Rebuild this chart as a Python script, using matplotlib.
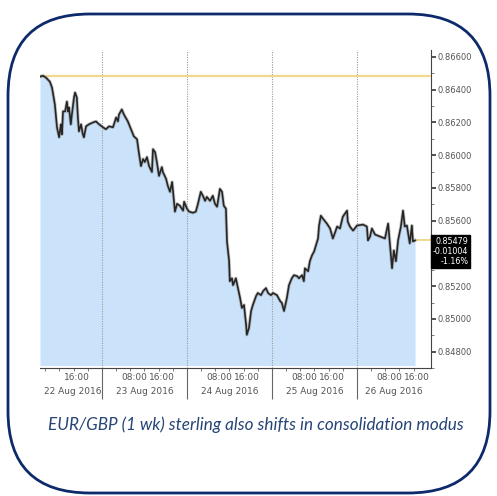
import matplotlib
matplotlib.use('Agg')
import matplotlib.pyplot as plt
from matplotlib.patches import FancyBboxPatch
from matplotlib.transforms import blended_transform_factory
import numpy as np

# hours since 22 Aug 2016 00:00 (UTC) and EUR/GBP price
HOURS = [6.5, 7.3, 8.2, 9.3, 9.9, 10.7, 11.3, 11.9, 12.4, 12.7, 13.0, 13.6, 14.1,
         14.4, 14.7, 15.2, 15.5, 16.1, 16.4, 16.9, 17.2, 17.5, 18.1, 18.6, 18.9,
         19.5, 20.3, 21.5, 22.3, 23.2, 24.3, 25.1, 26.0, 27.1, 28.0, 28.5, 28.8,
         29.6, 30.2, 31.3, 32.2, 33.0, 33.9, 34.4, 35.0, 35.6, 36.1, 36.7, 37.3,
         38.1, 38.4, 39.0, 39.5, 40.1, 40.9, 41.2, 42.1, 42.6, 43.2, 43.8, 44.0,
         44.6, 45.2, 46.0, 46.9, 47.2, 48.0, 48.6, 49.7, 50.5, 51.1, 51.9, 52.5,
         53.1, 53.6, 54.5, 55.3, 55.9, 56.5, 57.3, 57.9, 58.4, 59.0, 59.3, 59.9,
         60.1, 60.7, 61.0, 61.8, 62.4, 63.0, 63.5, 64.1, 64.7, 64.9, 65.5, 66.1,
         66.6, 67.5, 68.0, 68.9, 69.5, 70.3, 70.9, 71.7, 72.3, 73.4, 74.3, 74.8,
         75.4, 76.2, 76.8, 77.6, 78.2, 79.1, 79.6, 80.5, 81.0, 81.3, 82.2, 82.7,
         83.3, 83.9, 84.4, 85.0, 85.3, 85.8, 86.4, 87.5, 88.4, 89.2, 90.4, 91.2,
         92.0, 93.2, 93.4, 94.0, 94.9, 96.0, 97.7, 98.8, 99.1, 99.7, 100.2, 101.1,
         102.5, 103.9, 104.8, 105.3, 105.9, 106.4, 107.0, 107.6, 108.4, 109.0,
         109.5, 110.1, 110.9, 111.5, 111.8, 112.4]
PRICES = [0.86479, 0.86485, 0.86473, 0.86448, 0.86412, 0.86309, 0.86170, 0.86109,
          0.86188, 0.86127, 0.86267, 0.86267, 0.86327, 0.86267, 0.86291, 0.86188,
          0.86248, 0.86352, 0.86382, 0.86352, 0.86230, 0.86145, 0.86188, 0.86127,
          0.86109, 0.86176, 0.86188, 0.86200, 0.86206, 0.86188, 0.86170, 0.86158,
          0.86176, 0.86170, 0.86230, 0.86206, 0.86248, 0.86279, 0.86248, 0.86206,
          0.86158, 0.86115, 0.86097, 0.86018, 0.85933, 0.85976, 0.85958, 0.85988,
          0.85933, 0.85897, 0.86036, 0.86018, 0.85958, 0.85873, 0.85927, 0.85897,
          0.85855, 0.85812, 0.85776, 0.85836, 0.85794, 0.85655, 0.85703, 0.85691,
          0.85661, 0.85715, 0.85673, 0.85655, 0.85648, 0.85655, 0.85703, 0.85776,
          0.85752, 0.85721, 0.85745, 0.85721, 0.85752, 0.85703, 0.85685, 0.85794,
          0.85776, 0.85691, 0.85673, 0.85473, 0.85352, 0.85230, 0.85248, 0.85206,
          0.85248, 0.85188, 0.85127, 0.85067, 0.85085, 0.84964, 0.84903, 0.84945,
          0.85048, 0.85085, 0.85139, 0.85158, 0.85145, 0.85170, 0.85188, 0.85158,
          0.85145, 0.85158, 0.85145, 0.85109, 0.85097, 0.85048, 0.85127, 0.85206,
          0.85248, 0.85267, 0.85261, 0.85248, 0.85267, 0.85230, 0.85309, 0.85291,
          0.85352, 0.85388, 0.85412, 0.85448, 0.85491, 0.85570, 0.85630, 0.85612,
          0.85582, 0.85552, 0.85491, 0.85564, 0.85552, 0.85624, 0.85661, 0.85594,
          0.85564, 0.85539, 0.85570, 0.85576, 0.85564, 0.85479, 0.85503, 0.85552,
          0.85515, 0.85503, 0.85491, 0.85582, 0.85461, 0.85309, 0.85418, 0.85352,
          0.85479, 0.85564, 0.85661, 0.85564, 0.85570, 0.85461, 0.85570, 0.85473,
          0.85479]

OPEN_LEVEL = 0.86485
LAST = 0.85479
CHANGE = -0.01004
CHANGE_PCT = -1.16

Y_TICKS = [0.848, 0.850, 0.852, 0.854, 0.856, 0.858, 0.860, 0.862, 0.864, 0.866]
Y_LABELS = ['0.84800', '0.85000', '0.85200', '', '0.85600', '0.85800',
            '0.86000', '0.86200', '0.86400', '0.86600']
DAY_STARTS = [24, 48, 72, 96]
TIME_TICKS = [16, 32, 40, 56, 64, 80, 88, 104, 112]
TIME_LABELS = ['16:00', '08:00', '16:00', '08:00', '16:00', '08:00', '16:00',
               '08:00', '16:00']
DATE_POS = [15.8, 36, 60, 84, 106.5]
DATE_LABELS = ['22 Aug 2016', '23 Aug 2016', '24 Aug 2016', '25 Aug 2016',
               '26 Aug 2016']
CAPTION = 'EUR/GBP (1 wk) sterling also shifts in consolidation modus'

X_MIN, X_MAX = 6.5, 116.9
Y_MIN, Y_MAX = 0.84715, 0.86642

W, H = 497, 496
fig = plt.figure(figsize=(W / 100, H / 100), dpi=100)
fig.patch.set_facecolor('white')

# rounded frame
frame = FancyBboxPatch((8 / W, 1 - 493 / H), 482 / W, 479 / H,
                       boxstyle='round,pad=0,rounding_size=0.165',
                       transform=fig.transFigure, facecolor='none',
                       edgecolor='#0d2b6b', lw=2.0)
fig.patches.append(frame)

ax = fig.add_axes([40 / W, 1 - 368 / H, 391 / W, 318 / H])
ax.set_facecolor('white')

ax.fill_between(HOURS, PRICES, Y_MIN, color='#cbe3fa', lw=0)
ax.plot(HOURS, PRICES, color='#8a8a8a', lw=2.4, alpha=0.5, zorder=4)
ax.plot(HOURS, PRICES, color='#262626', lw=1.2, zorder=4)
ax.axhline(OPEN_LEVEL, color='#f0d98c', lw=1.6, zorder=3)
ax.hlines(LAST, HOURS[-1], X_MAX, color='#f0d98c', lw=1.4, zorder=3)
for d in DAY_STARTS:
    ax.axvline(d, color='#9a9a9a', lw=0.8, ls=(0, (1, 1.2)), zorder=2)

ax.set_xlim(X_MIN, X_MAX)
ax.set_ylim(Y_MIN, Y_MAX)

for s in ['left', 'top']:
    ax.spines[s].set_visible(False)
ax.spines['right'].set_color('#444444')
ax.spines['bottom'].set_color('#444444')
ax.spines['right'].set_linewidth(0.8)
ax.spines['bottom'].set_linewidth(0.8)

label_font = ['Liberation Sans Narrow', 'DejaVu Sans']

ax.yaxis.tick_right()
ax.set_yticks(Y_TICKS)
ax.set_yticklabels(Y_LABELS, fontsize=6, color='#555555', family=label_font)
ax.set_yticks(np.arange(0.847, 0.8665, 0.001), minor=True)
ax.tick_params(axis='y', which='major', length=3.5, width=1.2, color='#333333', pad=1.5)
ax.tick_params(axis='y', which='minor', length=2, width=0.6, color='#666666')

ax.set_xticks(DAY_STARTS)
ax.set_xticklabels([])
ax.set_xticks(np.arange(8, 116, 4), minor=True)
ax.tick_params(axis='x', which='major', length=22, width=0.8, color='#666666')
ax.tick_params(axis='x', which='minor', length=2, width=0.6, color='#666666')

tr = blended_transform_factory(ax.transData, ax.transAxes)
for h, lab in zip(TIME_TICKS, TIME_LABELS):
    ax.text(h + 1.0, -0.03, lab, transform=tr, ha='center', va='center',
            fontsize=6.5, color='#555555', family=label_font)
for h, lab in zip(DATE_POS, DATE_LABELS):
    ax.text(h, -0.075, lab, transform=tr, ha='center', va='center',
            fontsize=6.5, color='#555555', family=label_font)

# last price box
ax.text(1.005, LAST + 0.0002, f'{LAST:.5f}\n{CHANGE:.5f}\n{CHANGE_PCT:.2f}%',
        transform=blended_transform_factory(ax.transAxes, ax.transData),
        ha='left', va='top', fontsize=5.8, color='white', family=label_font,
        multialignment='right', linespacing=1.15,
        bbox=dict(boxstyle='square,pad=0.25', facecolor='black', edgecolor='black'),
        zorder=6, clip_on=False)

fig.text(256 / W, 1 - 425 / H, CAPTION, ha='center', va='center',
         fontsize=12.3, style='italic', color='#264476', family='Lato')

fig.savefig('out.png', dpi=100, facecolor='white')
